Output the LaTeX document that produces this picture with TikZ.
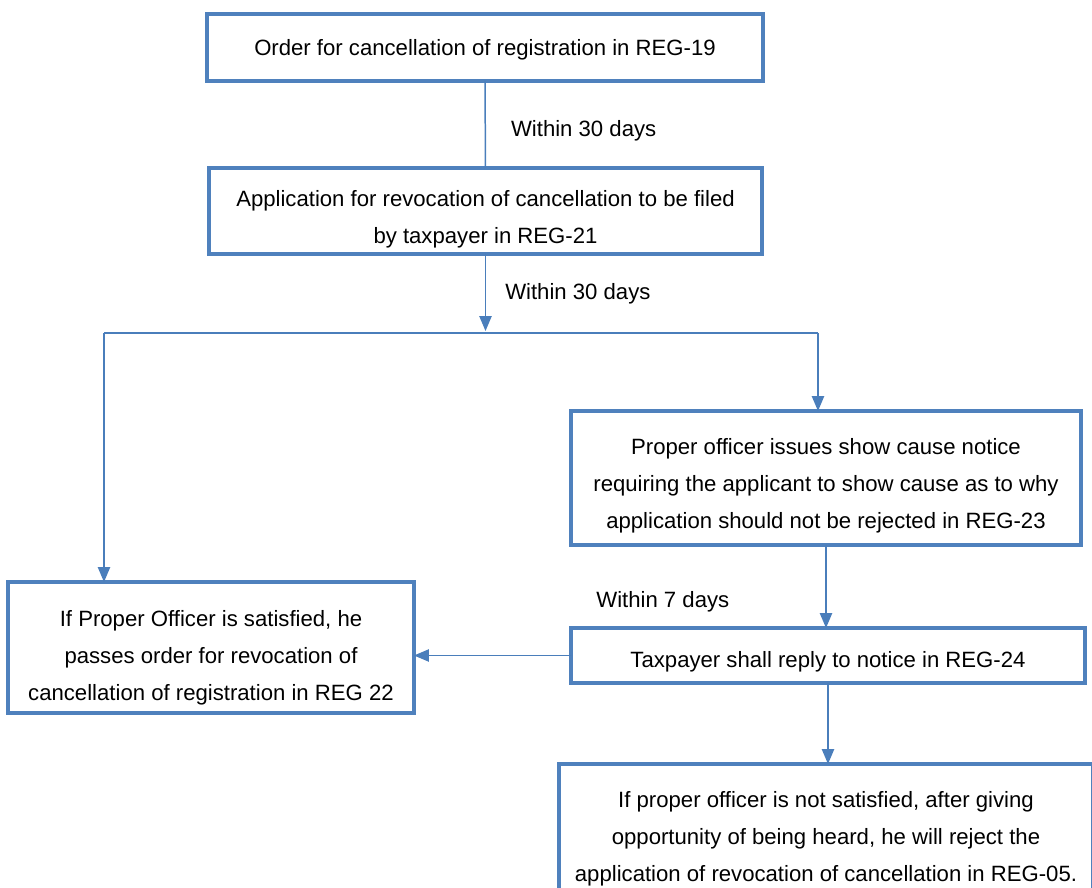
\documentclass[tikz,border=0pt]{standalone}
\usepackage{fontspec}
\setmainfont{Liberation Sans}
\usetikzlibrary{positioning,arrows.meta}

\definecolor{boxblue}{RGB}{79,129,189}
\definecolor{lineblue}{RGB}{74,126,187}

\begin{document}
\begin{tikzpicture}[font=\fontsize{12.6}{21}\selectfont]

% ---- Define Styles ----
\tikzset{
  stepbox/.style={
    draw=boxblue, line width=2.3pt, fill=white, align=center,
    inner sep=2pt, outer sep=0pt
  },
  % pushes the text block a little lower in its box
  textdrop/.style={execute at begin node={\rule{0pt}{#1}}},
  link/.style={draw=lineblue, line width=0.85pt},
  arrowlink/.style={link, -{Triangle[width=7pt,length=8.5pt]}},
  daylabel/.style={inner sep=0pt, text=black}
}

% fixed page = 1092 x 887 px at 50 px/cm
\clip (0,0) rectangle (21.84,17.74);

% =========================================================
% MAIN COLUMN (top)
% =========================================================
\node[stepbox, textdrop=11.4pt, minimum width=11.12cm, minimum height=1.34cm] (order) at (9.70, 16.79)
  {Order for cancellation of registration in REG-19};
\node[stepbox, textdrop=39.2pt, minimum width=11.06cm, minimum height=1.72cm] (apply) at (9.71, 13.52)
  {Application for revocation of cancellation to be filed\\by taxpayer in REG-21};

% =========================================================
% RIGHT BRANCH
% =========================================================
\node[stepbox, textdrop=59.6pt, minimum width=10.20cm, minimum height=2.68cm] (notice) at (16.52, 8.18)
  {Proper officer issues show cause notice\\requiring the applicant to show cause as to why\\application should not be rejected in REG-23};
\node[stepbox, textdrop=16pt, minimum width=10.28cm, minimum height=1.10cm] (reply) at (16.56, 4.63)
  {Taxpayer shall reply to notice in REG-24};
% bottom box runs off the page edge
\node[stepbox, textdrop=54.6pt, minimum width=10.68cm, minimum height=2.88cm] (reject) at (16.52, 1.02)
  {If proper officer is not satisfied, after giving\\opportunity of being heard, he will reject the\\application of revocation of cancellation in REG-05.};

% =========================================================
% LEFT BRANCH
% =========================================================
\node[stepbox, textdrop=62.4pt, minimum width=8.12cm, minimum height=2.62cm] (revoke) at (4.22, 4.79)
  {If Proper Officer is satisfied, he\\passes order for revocation of\\cancellation of registration in REG 22};

% =========================================================
% CONNECTORS
% =========================================================
\coordinate[below=1.54cm of apply.south] (split);
\coordinate (lturn) at (2.08, 11.08);
\coordinate (rturn) at (16.36, 11.08);

\draw[link] (order.south) -- (apply.north)
  node[pos=0.57, right=0.5cm, daylabel] {Within 30 days};
\draw[arrowlink] (apply.south) -- (split)
  node[pos=0.52, right=0.38cm, daylabel] {Within 30 days};
\draw[link] (lturn) -- (rturn);
\draw[arrowlink] (lturn) -- (lturn |- revoke.north);
\draw[arrowlink] (rturn) -- (rturn |- notice.north);

\draw[arrowlink] (notice.south) -- (notice.south |- reply.north)
  node[pos=0.68, left=1.92cm, daylabel] {Within 7 days};
\draw[arrowlink] (reply.west) -- (revoke.east |- reply.west);
\draw[arrowlink] (reply.south) -- (reply.south |- reject.north);

\end{tikzpicture}
\end{document}
